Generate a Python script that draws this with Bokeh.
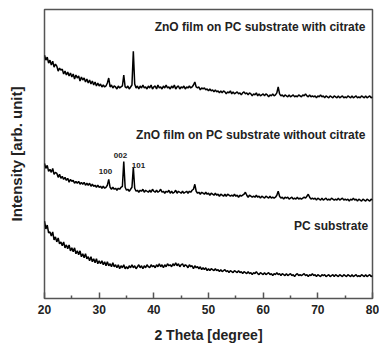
from bokeh.plotting import figure
from bokeh.models import Range1d, FixedTicker, Label
from bokeh.embed import file_html
from bokeh.resources import INLINE

# ---- data (2-theta in degrees, intensity in arbitrary units) ----
two_theta = [
    20.00, 20.25, 20.50, 20.75, 21.00,
    21.25, 21.50, 21.75, 22.00, 22.25, 22.50, 22.75, 23.00, 23.25, 23.50, 23.75, 24.00,
    24.25, 24.50, 24.75, 25.00, 25.25, 25.50, 25.75, 26.00, 26.25, 26.50, 26.75, 27.00,
    27.25, 27.50, 27.75, 28.00, 28.25, 28.50, 28.75, 29.00, 29.25, 29.50, 29.75, 30.00,
    30.25, 30.50, 30.75, 31.00, 31.25, 31.50, 31.75, 32.00, 32.25, 32.50, 32.75, 33.00,
    33.25, 33.50, 33.75, 34.00, 34.25, 34.50, 34.75, 35.00, 35.25, 35.50, 35.75, 36.00,
    36.25, 36.50, 36.75, 37.00, 37.25, 37.50, 37.75, 38.00, 38.25, 38.50, 38.75, 39.00,
    39.25, 39.50, 39.75, 40.00, 40.25, 40.50, 40.75, 41.00, 41.25, 41.50, 41.75, 42.00,
    42.25, 42.50, 42.75, 43.00, 43.25, 43.50, 43.75, 44.00, 44.25, 44.50, 44.75, 45.00,
    45.25, 45.50, 45.75, 46.00, 46.25, 46.50, 46.75, 47.00, 47.25, 47.50, 47.75, 48.00,
    48.25, 48.50, 48.75, 49.00, 49.25, 49.50, 49.75, 50.00, 50.25, 50.50, 50.75, 51.00,
    51.25, 51.50, 51.75, 52.00, 52.25, 52.50, 52.75, 53.00, 53.25, 53.50, 53.75, 54.00,
    54.25, 54.50, 54.75, 55.00, 55.25, 55.50, 55.75, 56.00, 56.25, 56.50, 56.75, 57.00,
    57.25, 57.50, 57.75, 58.00, 58.25, 58.50, 58.75, 59.00, 59.25, 59.50, 59.75, 60.00,
    60.25, 60.50, 60.75, 61.00, 61.25, 61.50, 61.75, 62.00, 62.25, 62.50, 62.75, 63.00,
    63.25, 63.50, 63.75, 64.00, 64.25, 64.50, 64.75, 65.00, 65.25, 65.50, 65.75, 66.00,
    66.25, 66.50, 66.75, 67.00, 67.25, 67.50, 67.75, 68.00, 68.25, 68.50, 68.75, 69.00,
    69.25, 69.50, 69.75, 70.00, 70.25, 70.50, 70.75, 71.00, 71.25, 71.50, 71.75, 72.00,
    72.25, 72.50, 72.75, 73.00, 73.25, 73.50, 73.75, 74.00, 74.25, 74.50, 74.75, 75.00,
    75.25, 75.50, 75.75, 76.00, 76.25, 76.50, 76.75, 77.00, 77.25, 77.50, 77.75, 78.00,
    78.25, 78.50, 78.75, 79.00, 79.25, 79.50, 79.75, 80.00,
]

zno_with_citrate = [
    245, 240, 243, 237, 240,
    235, 239, 233, 236, 234, 229, 232, 230, 231, 226, 229, 225,
    228, 224, 227, 223, 226, 221, 225, 222, 224, 219, 223, 220,
    222, 218, 221, 217, 220, 216, 219, 215, 218, 214, 217, 214,
    216, 213, 215, 213, 214, 217, 222, 213, 215, 212, 214, 213,
    211, 214, 212, 213, 214, 225, 213, 212, 214, 211, 213, 215,
    249, 216, 212, 214, 211, 214, 212, 215, 212, 213, 211, 214,
    212, 215, 211, 213, 214, 211, 215, 212, 213, 211, 214, 212,
    215, 212, 213, 211, 214, 212, 215, 211, 213, 214, 211, 213,
    212, 214, 211, 213, 212, 214, 212, 213, 215, 218, 213, 212,
    213, 210, 212, 211, 212, 210, 211, 209, 211, 209, 210, 208,
    210, 208, 209, 207, 209, 207, 209, 208, 206, 208, 207, 209,
    206, 208, 206, 207, 208, 206, 207, 205, 207, 208, 206, 207,
    205, 207, 206, 204, 206, 205, 207, 204, 206, 204, 205, 206,
    204, 206, 205, 203, 205, 204, 206, 204, 205, 207, 213, 206,
    204, 205, 203, 205, 204, 203, 205, 203, 204, 205, 203, 204,
    203, 205, 204, 203, 205, 204, 206, 204, 203, 205, 203, 204,
    203, 204, 202, 204, 203, 205, 203, 204, 202, 204, 203, 202,
    204, 203, 202, 204, 203, 202, 204, 202, 203, 204, 202, 203,
    202, 204, 203, 202, 204, 202, 203, 204, 202, 203, 202, 204,
    203, 202, 204, 202, 203, 204, 202, 203,
]

zno_without_citrate = [
    136, 131, 134, 128, 130,
    127, 131, 125, 127, 126, 122, 125, 121, 123, 120, 122, 119,
    121, 117, 120, 118, 119, 116, 118, 116, 118, 115, 117, 115,
    117, 114, 116, 114, 116, 113, 115, 113, 114, 112, 114, 112,
    113, 111, 113, 111, 112, 114, 120, 112, 110, 112, 110, 111,
    109, 111, 110, 112, 113, 138, 112, 109, 110, 108, 110, 112,
    132, 111, 108, 109, 107, 109, 108, 110, 107, 109, 108, 107,
    109, 107, 110, 108, 107, 109, 107, 108, 110, 107, 108, 106,
    108, 107, 109, 106, 108, 106, 107, 109, 106, 108, 107, 106,
    108, 106, 107, 108, 106, 108, 107, 109, 110, 115, 108, 106,
    107, 105, 107, 106, 105, 107, 105, 106, 104, 106, 105, 104,
    106, 104, 105, 103, 105, 104, 103, 105, 103, 105, 104, 103,
    104, 103, 105, 103, 104, 102, 104, 103, 104, 105, 107, 104,
    102, 104, 103, 102, 103, 102, 104, 102, 103, 101, 103, 102,
    101, 103, 102, 101, 103, 101, 102, 101, 102, 104, 108, 103,
    101, 102, 100, 102, 101, 102, 100, 101, 102, 100, 101, 100,
    102, 100, 101, 100, 101, 102, 101, 103, 105, 102, 100, 101,
    100, 101, 99, 101, 100, 99, 101, 99, 100, 101, 99, 100,
    99, 101, 100, 99, 100, 99, 101, 99, 100, 101, 99, 100,
    99, 100, 98, 100, 99, 101, 99, 100, 98, 100, 99, 98,
    100, 99, 98, 100, 99, 98, 100, 99,
]

pc_substrate = [
    78, 70, 74, 66, 67,
    63, 67, 59, 62, 57, 61, 55, 57, 53, 57, 51, 54,
    50, 54, 48, 51, 47, 51, 45, 48, 44, 48, 42, 45,
    41, 45, 40, 42, 38, 42, 37, 40, 36, 40, 35, 38,
    35, 38, 34, 37, 33, 37, 33, 35, 32, 36, 32, 34,
    31, 34, 30, 33, 31, 34, 30, 32, 30, 33, 31, 34,
    31, 33, 30, 32, 34, 31, 33, 30, 33, 31, 34, 32,
    31, 34, 32, 33, 31, 34, 32, 35, 32, 34, 31, 34,
    32, 35, 33, 34, 32, 35, 33, 36, 33, 35, 32, 34,
    35, 32, 34, 33, 31, 34, 32, 33, 30, 33, 31, 32,
    30, 32, 29, 31, 29, 31, 28, 30, 28, 30, 29, 28,
    30, 28, 29, 27, 29, 27, 28, 29, 27, 28, 26, 28,
    27, 26, 28, 27, 26, 28, 26, 27, 25, 27, 26, 25,
    27, 25, 26, 24, 26, 25, 27, 25, 24, 26, 25, 24,
    26, 24, 25, 26, 24, 25, 23, 25, 24, 26, 24, 25,
    23, 25, 24, 23, 25, 23, 24, 25, 23, 24, 22, 24,
    25, 23, 24, 23, 24, 25, 23, 24, 22, 24, 23, 25,
    23, 24, 22, 24, 23, 22, 24, 23, 24, 22, 23, 24,
    22, 23, 24, 22, 24, 23, 22, 24, 23, 22, 24, 23,
    22, 24, 23, 22, 24, 22, 23, 24, 22, 23, 22, 24,
    23, 22, 24, 22, 23, 24, 22, 23,
]

x_ticks = [20, 30, 40, 50, 60, 70, 80]
x_minor_ticks = [25, 35, 45, 55, 65, 75]
peak_labels = ["100", "002", "101"]
peak_label_x = [31.15, 33.9, 37.2]
peak_label_y = [128, 144, 134]

FONT = "Liberation Sans"
TXT = "#222222"
FRAME = "#555555"

p = figure(width=379, height=345, output_backend="svg", toolbar_location=None, title=None,
           x_range=Range1d(20, 80), y_range=Range1d(0, 291),
           min_border_left=44, min_border_right=7, min_border_top=9, min_border_bottom=45)

for series in (zno_with_citrate, zno_without_citrate, pc_substrate):
    p.line(two_theta, series, line_color="black", line_width=1.5)

p.xgrid.visible = False
p.ygrid.visible = False
p.outline_line_color = FRAME
p.outline_line_width = 1.5

xa = p.xaxis[0]
xa.ticker = FixedTicker(ticks=x_ticks, minor_ticks=x_minor_ticks)
xa.axis_line_color = None
xa.major_tick_in = 6
xa.major_tick_out = 0
xa.minor_tick_in = 3
xa.minor_tick_out = 0
xa.major_tick_line_color = FRAME
xa.minor_tick_line_color = FRAME
xa.major_tick_line_width = 1.5
xa.minor_tick_line_width = 1.5
xa.major_label_text_font = FONT
xa.major_label_text_font_style = "bold"
xa.major_label_text_font_size = "12px"
xa.major_label_text_color = TXT
xa.major_label_standoff = 6
xa.axis_label = "2 Theta [degree]"
xa.axis_label_text_font = FONT
xa.axis_label_text_font_style = "bold"
xa.axis_label_text_font_size = "14px"
xa.axis_label_text_color = TXT
xa.axis_label_standoff = 10

ya = p.yaxis[0]
ya.ticker = FixedTicker(ticks=[])
ya.axis_line_color = None
ya.major_tick_line_color = None
ya.minor_tick_line_color = None
ya.axis_label = "Intensity [arb. unit]"
ya.axis_label_text_font = FONT
ya.axis_label_text_font_style = "bold"
ya.axis_label_text_font_size = "15px"
ya.axis_label_text_color = TXT
ya.axis_label_standoff = 20


def add_text(x, y, t, size, align="right"):
    p.add_layout(Label(x=x, y=y, text=t, text_font=FONT, text_font_style="bold",
                       text_font_size=size, text_color=TXT, text_align=align,
                       text_baseline="middle"))


add_text(78.7, 273, "ZnO film on PC substrate with citrate", "12px")
add_text(78.7, 165, "ZnO film on PC substrate without citrate", "12px")
add_text(79.2, 73, "PC substrate", "12px")
for t, x, y in zip(peak_labels, peak_label_x, peak_label_y):
    add_text(x, y, t, "8px", align="center")

open("out.html", "w").write(file_html(p, INLINE))
